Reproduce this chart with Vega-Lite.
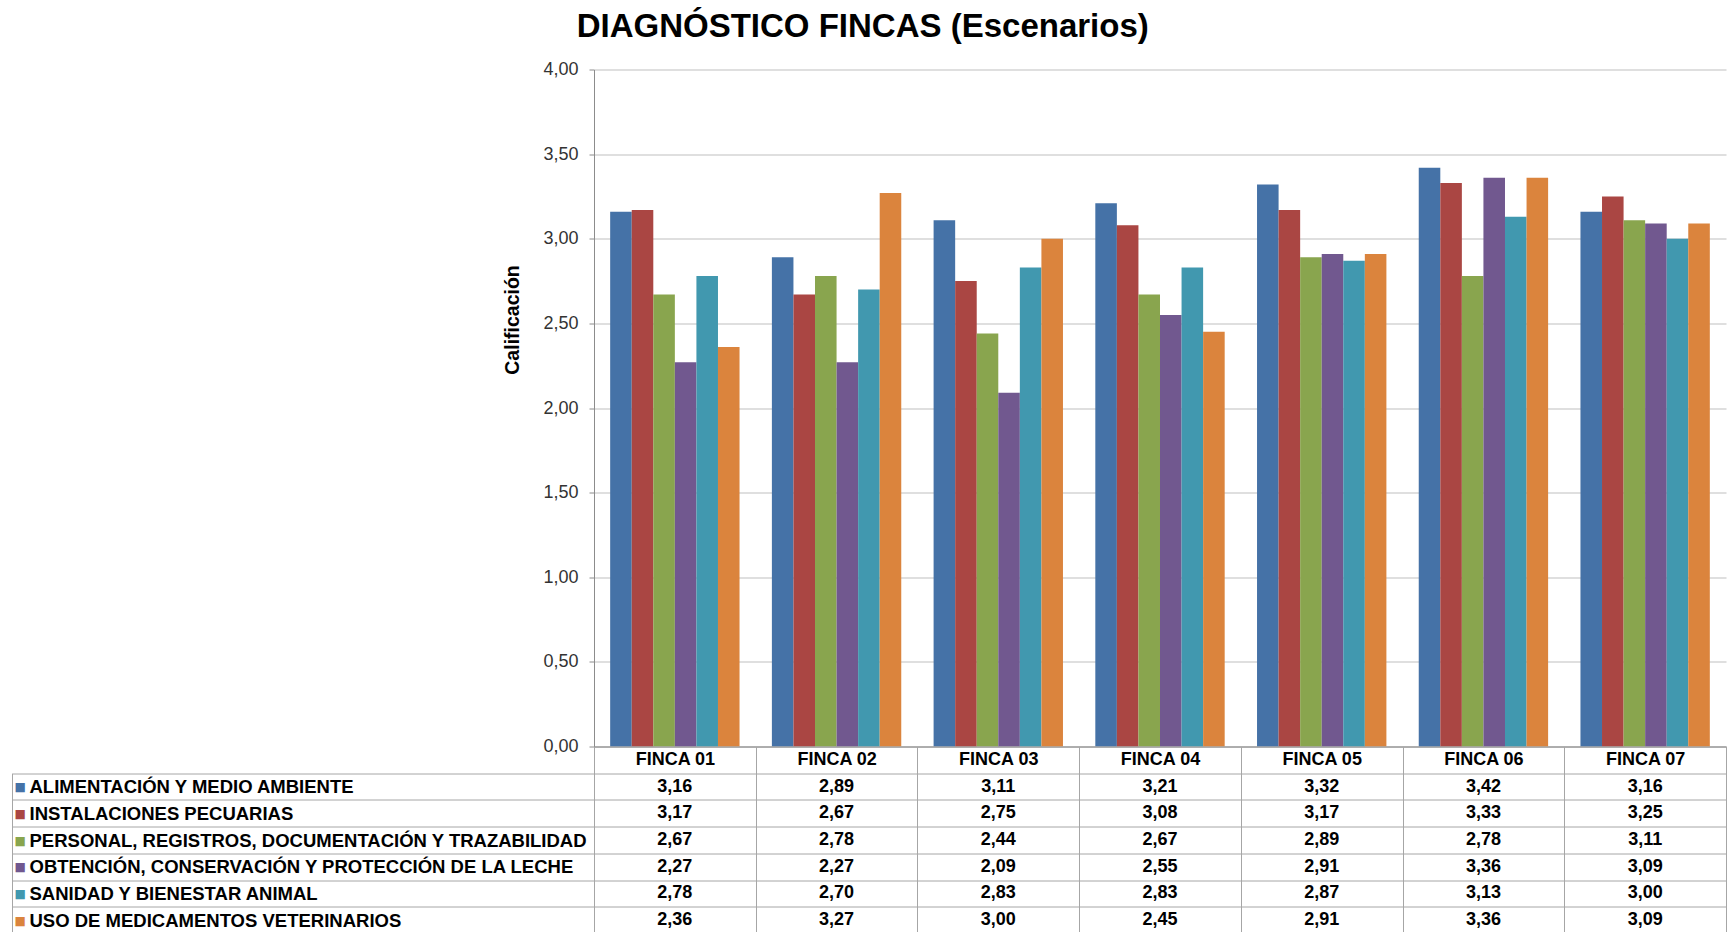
{
  "$schema": "https://vega.github.io/schema/vega-lite/v6.json",
  "padding": {"left": 11, "top": 10.5, "right": 2, "bottom": 0},
  "background": "white",
  "spacing": 0,
  "bounds": "flush",
  "config": {
    "locale": {"number": {"decimal": ",", "thousands": ".", "grouping": [3], "currency": ["", " €"]}},
    "font": "Liberation Sans",
    "view": {"stroke": null},
    "concat": {"spacing": 0}
  },
  "title": {"text": "DIAGNÓSTICO FINCAS (Escenarios)", "fontSize": 33, "font": "Liberation Sans", "fontWeight": "bold", "color": "black", "anchor": "middle", "offset": 16.5, "dx": -6},
  "datasets": {
    "d": [
      {"f": "FINCA 01", "s": "ALIMENTACIÓN Y MEDIO AMBIENTE", "v": 3.16},
      {"f": "FINCA 02", "s": "ALIMENTACIÓN Y MEDIO AMBIENTE", "v": 2.89},
      {"f": "FINCA 03", "s": "ALIMENTACIÓN Y MEDIO AMBIENTE", "v": 3.11},
      {"f": "FINCA 04", "s": "ALIMENTACIÓN Y MEDIO AMBIENTE", "v": 3.21},
      {"f": "FINCA 05", "s": "ALIMENTACIÓN Y MEDIO AMBIENTE", "v": 3.32},
      {"f": "FINCA 06", "s": "ALIMENTACIÓN Y MEDIO AMBIENTE", "v": 3.42},
      {"f": "FINCA 07", "s": "ALIMENTACIÓN Y MEDIO AMBIENTE", "v": 3.16},
      {"f": "FINCA 01", "s": "INSTALACIONES PECUARIAS", "v": 3.17},
      {"f": "FINCA 02", "s": "INSTALACIONES PECUARIAS", "v": 2.67},
      {"f": "FINCA 03", "s": "INSTALACIONES PECUARIAS", "v": 2.75},
      {"f": "FINCA 04", "s": "INSTALACIONES PECUARIAS", "v": 3.08},
      {"f": "FINCA 05", "s": "INSTALACIONES PECUARIAS", "v": 3.17},
      {"f": "FINCA 06", "s": "INSTALACIONES PECUARIAS", "v": 3.33},
      {"f": "FINCA 07", "s": "INSTALACIONES PECUARIAS", "v": 3.25},
      {"f": "FINCA 01", "s": "PERSONAL, REGISTROS, DOCUMENTACIÓN Y TRAZABILIDAD", "v": 2.67},
      {"f": "FINCA 02", "s": "PERSONAL, REGISTROS, DOCUMENTACIÓN Y TRAZABILIDAD", "v": 2.78},
      {"f": "FINCA 03", "s": "PERSONAL, REGISTROS, DOCUMENTACIÓN Y TRAZABILIDAD", "v": 2.44},
      {"f": "FINCA 04", "s": "PERSONAL, REGISTROS, DOCUMENTACIÓN Y TRAZABILIDAD", "v": 2.67},
      {"f": "FINCA 05", "s": "PERSONAL, REGISTROS, DOCUMENTACIÓN Y TRAZABILIDAD", "v": 2.89},
      {"f": "FINCA 06", "s": "PERSONAL, REGISTROS, DOCUMENTACIÓN Y TRAZABILIDAD", "v": 2.78},
      {"f": "FINCA 07", "s": "PERSONAL, REGISTROS, DOCUMENTACIÓN Y TRAZABILIDAD", "v": 3.11},
      {"f": "FINCA 01", "s": "OBTENCIÓN, CONSERVACIÓN Y PROTECCIÓN DE LA LECHE", "v": 2.27},
      {"f": "FINCA 02", "s": "OBTENCIÓN, CONSERVACIÓN Y PROTECCIÓN DE LA LECHE", "v": 2.27},
      {"f": "FINCA 03", "s": "OBTENCIÓN, CONSERVACIÓN Y PROTECCIÓN DE LA LECHE", "v": 2.09},
      {"f": "FINCA 04", "s": "OBTENCIÓN, CONSERVACIÓN Y PROTECCIÓN DE LA LECHE", "v": 2.55},
      {"f": "FINCA 05", "s": "OBTENCIÓN, CONSERVACIÓN Y PROTECCIÓN DE LA LECHE", "v": 2.91},
      {"f": "FINCA 06", "s": "OBTENCIÓN, CONSERVACIÓN Y PROTECCIÓN DE LA LECHE", "v": 3.36},
      {"f": "FINCA 07", "s": "OBTENCIÓN, CONSERVACIÓN Y PROTECCIÓN DE LA LECHE", "v": 3.09},
      {"f": "FINCA 01", "s": "SANIDAD Y BIENESTAR ANIMAL", "v": 2.78},
      {"f": "FINCA 02", "s": "SANIDAD Y BIENESTAR ANIMAL", "v": 2.70},
      {"f": "FINCA 03", "s": "SANIDAD Y BIENESTAR ANIMAL", "v": 2.83},
      {"f": "FINCA 04", "s": "SANIDAD Y BIENESTAR ANIMAL", "v": 2.83},
      {"f": "FINCA 05", "s": "SANIDAD Y BIENESTAR ANIMAL", "v": 2.87},
      {"f": "FINCA 06", "s": "SANIDAD Y BIENESTAR ANIMAL", "v": 3.13},
      {"f": "FINCA 07", "s": "SANIDAD Y BIENESTAR ANIMAL", "v": 3.00},
      {"f": "FINCA 01", "s": "USO DE MEDICAMENTOS VETERINARIOS", "v": 2.36},
      {"f": "FINCA 02", "s": "USO DE MEDICAMENTOS VETERINARIOS", "v": 3.27},
      {"f": "FINCA 03", "s": "USO DE MEDICAMENTOS VETERINARIOS", "v": 3.00},
      {"f": "FINCA 04", "s": "USO DE MEDICAMENTOS VETERINARIOS", "v": 2.45},
      {"f": "FINCA 05", "s": "USO DE MEDICAMENTOS VETERINARIOS", "v": 2.91},
      {"f": "FINCA 06", "s": "USO DE MEDICAMENTOS VETERINARIOS", "v": 3.36},
      {"f": "FINCA 07", "s": "USO DE MEDICAMENTOS VETERINARIOS", "v": 3.09}
    ]
  },
  "vconcat": [
    {
      "width": 1132,
      "height": 677,
      "data": {"name": "d"},
      "mark": {"type": "bar"},
      "encoding": {
        "x": {"field": "f", "type": "nominal", "scale": {"paddingInner": 0.2, "paddingOuter": 0.1},
          "axis": {"labels": false, "ticks": false, "title": null, "domainColor": "#8C8C8C", "grid": false}},
        "xOffset": {"field": "s", "type": "nominal",
          "scale": {"domain": ["ALIMENTACIÓN Y MEDIO AMBIENTE", "INSTALACIONES PECUARIAS", "PERSONAL, REGISTROS, DOCUMENTACIÓN Y TRAZABILIDAD", "OBTENCIÓN, CONSERVACIÓN Y PROTECCIÓN DE LA LECHE", "SANIDAD Y BIENESTAR ANIMAL", "USO DE MEDICAMENTOS VETERINARIOS"], "paddingInner": 0, "paddingOuter": 0}},
        "y": {"field": "v", "type": "quantitative", "scale": {"domain": [0, 4]},
          "axis": {"values": [0, 0.5, 1, 1.5, 2, 2.5, 3, 3.5, 4], "format": ".2f", "title": "Calificación",
            "titleFontSize": 19.5, "titleFontWeight": "bold", "titleColor": "black", "titlePadding": 20, "titleY": 250,
            "labelFontSize": 18, "labelColor": "#333333", "labelPadding": 11, "tickSize": 5,
            "tickColor": "#8C8C8C", "domainColor": "#8C8C8C", "gridColor": "#BFBFBF"}},
        "color": {"field": "s", "type": "nominal",
          "scale": {"domain": ["ALIMENTACIÓN Y MEDIO AMBIENTE", "INSTALACIONES PECUARIAS", "PERSONAL, REGISTROS, DOCUMENTACIÓN Y TRAZABILIDAD", "OBTENCIÓN, CONSERVACIÓN Y PROTECCIÓN DE LA LECHE", "SANIDAD Y BIENESTAR ANIMAL", "USO DE MEDICAMENTOS VETERINARIOS"],
            "range": ["#4572A7", "#AA4643", "#89A54E", "#71588F", "#4198AF", "#DB843D"]},
          "legend": null}
      }
    },
    {
      "width": 1132,
      "height": 187,
      "data": {"name": "d"},
      "layer": [
        {
          "mark": {"type": "text", "fontSize": 18, "fontWeight": "bold", "color": "black", "font": "Liberation Sans"},
          "encoding": {
            "x": {"field": "f", "type": "nominal", "scale": {"paddingInner": 0, "paddingOuter": 0},
              "axis": {"orient": "top", "tickBand": "extent", "grid": true, "gridColor": "#A6A6A6", "ticks": false, "tickSize": 0,
                "domain": false, "labelPadding": -13.4, "labelBaseline": "middle", "labelFontSize": 18, "labelFontWeight": "bold",
                "labelColor": "black", "labelAngle": 0, "title": null}},
            "y": {"field": "s", "type": "nominal",
              "scale": {"domain": ["header", "ALIMENTACIÓN Y MEDIO AMBIENTE", "INSTALACIONES PECUARIAS", "PERSONAL, REGISTROS, DOCUMENTACIÓN Y TRAZABILIDAD", "OBTENCIÓN, CONSERVACIÓN Y PROTECCIÓN DE LA LECHE", "SANIDAD Y BIENESTAR ANIMAL", "USO DE MEDICAMENTOS VETERINARIOS"], "paddingInner": 0, "paddingOuter": 0},
              "axis": {"orient": "left", "tickBand": "extent", "grid": true, "gridColor": "#A6A6A6", "ticks": true, "tickSize": 582,
                "tickColor": {"condition": {"test": "datum.extra != null", "value": "transparent"}, "value": "#A6A6A6"},
                "domain": false, "labelExpr": "datum.value == 'header' ? '' : datum.value", "labelAlign": "left", "labelBaseline": "middle",
                "labelPadding": -17, "labelFontSize": 18.5, "labelFontWeight": "bold", "labelColor": "black", "labelLimit": 700, "title": null}},
            "text": {"field": "v", "type": "quantitative", "format": ".2f"}
          }
        },
        {
          "mark": {"type": "text", "opacity": 0},
          "encoding": {
            "y": {"field": "s", "type": "nominal",
              "scale": {"domain": ["header", "ALIMENTACIÓN Y MEDIO AMBIENTE", "INSTALACIONES PECUARIAS", "PERSONAL, REGISTROS, DOCUMENTACIÓN Y TRAZABILIDAD", "OBTENCIÓN, CONSERVACIÓN Y PROTECCIÓN DE LA LECHE", "SANIDAD Y BIENESTAR ANIMAL", "USO DE MEDICAMENTOS VETERINARIOS"], "paddingInner": 0, "paddingOuter": 0},
              "axis": {"orient": "left", "offset": 582, "ticks": false, "tickSize": 0, "grid": false, "domainColor": "#A6A6A6",
                "domainDash": [0, 26.7, 400, 0],
                "labelExpr": "datum.value == 'header' ? '' : '■'", "labelAlign": "left", "labelBaseline": "middle", "labelPadding": -2,
                "labelFont": "DejaVu Sans", "labelFontSize": 12,
                "labelColor": {"condition": [
                  {"test": "datum.value == 'ALIMENTACIÓN Y MEDIO AMBIENTE'", "value": "#4572A7"},
                  {"test": "datum.value == 'INSTALACIONES PECUARIAS'", "value": "#AA4643"},
                  {"test": "datum.value == 'PERSONAL, REGISTROS, DOCUMENTACIÓN Y TRAZABILIDAD'", "value": "#89A54E"},
                  {"test": "datum.value == 'OBTENCIÓN, CONSERVACIÓN Y PROTECCIÓN DE LA LECHE'", "value": "#71588F"},
                  {"test": "datum.value == 'SANIDAD Y BIENESTAR ANIMAL'", "value": "#4198AF"}
                ], "value": "#DB843D"},
                "title": null}},
            "text": {"value": ""}
          }
        }
      ],
      "resolve": {"scale": {"y": "independent"}, "axis": {"y": "independent"}}
    }
  ]
}
